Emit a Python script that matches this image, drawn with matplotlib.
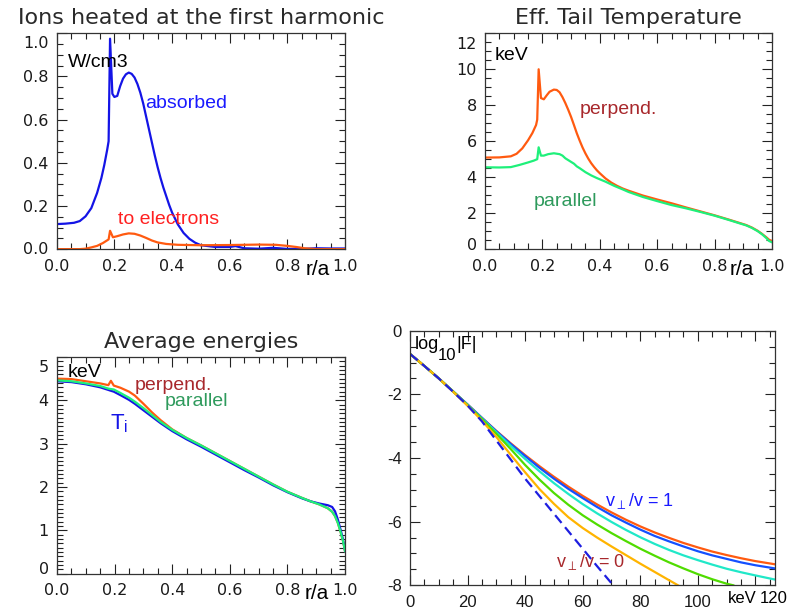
import matplotlib
matplotlib.use("Agg")
import matplotlib.pyplot as plt
import matplotlib.transforms as mtransforms
from matplotlib.ticker import MultipleLocator

plt.rcParams['axes.unicode_minus'] = False
plt.rcParams['mathtext.default'] = 'regular'

# ---- panel 1: power density (W/cm3) vs r/a
r_abs = [0, 0.03, 0.06, 0.08, 0.10, 0.12, 0.14, 0.155, 0.165, 0.175, 0.18, 0.185, 0.193,
         0.20, 0.21, 0.22, 0.23, 0.24, 0.25, 0.26, 0.27, 0.28, 0.29, 0.30, 0.31, 0.32,
         0.33, 0.34, 0.35, 0.36, 0.37, 0.38, 0.39, 0.40, 0.42, 0.44, 0.46, 0.48, 0.50,
         0.55, 0.60, 0.62, 0.65, 0.70, 0.75, 0.80, 0.85, 0.90, 0.95, 1.0]
absorbed = [0.116, 0.118, 0.122, 0.13, 0.152, 0.19, 0.26, 0.33, 0.39, 0.46, 0.50, 0.975, 0.72,
            0.705, 0.71, 0.755, 0.79, 0.81, 0.818, 0.812, 0.795, 0.765, 0.725, 0.675, 0.615, 0.555,
            0.495, 0.435, 0.38, 0.33, 0.285, 0.245, 0.205, 0.17, 0.115, 0.075, 0.048, 0.03, 0.018,
            0.01, 0.01, 0.014, 0.004, 0.002, 0.006, 0.001, 0.001, 0.004, 0.003, 0.003]
r_ele = [0, 0.08, 0.10, 0.12, 0.14, 0.16, 0.18, 0.185, 0.195, 0.21, 0.23, 0.25, 0.27, 0.29,
         0.31, 0.33, 0.35, 0.38, 0.42, 0.50, 0.60, 0.70, 0.76, 0.80, 0.83, 0.86, 0.90, 1.0]
to_electrons = [0, 0, 0.002, 0.008, 0.015, 0.028, 0.045, 0.085, 0.055, 0.06, 0.068, 0.073, 0.071, 0.063,
                0.052, 0.04, 0.031, 0.024, 0.02, 0.018, 0.019, 0.021, 0.02, 0.015, 0.01, 0.004, 0.0, 0.0]

# ---- panel 2: effective tail temperature (keV)
r_tp = [0, 0.05, 0.09, 0.11, 0.13, 0.15, 0.165, 0.178, 0.182, 0.187, 0.195, 0.205, 0.215,
        0.225, 0.24, 0.25, 0.26, 0.27, 0.28, 0.29, 0.30, 0.31, 0.32, 0.33, 0.34, 0.35, 0.36,
        0.37, 0.38, 0.39, 0.40, 0.42, 0.44, 0.46, 0.48, 0.50, 0.55, 0.60, 0.65, 0.70, 0.75,
        0.80, 0.85, 0.88, 0.91, 0.93, 0.95, 0.965, 0.98, 0.99, 1.0]
tail_perp = [5.09, 5.10, 5.16, 5.30, 5.60, 6.05, 6.45, 6.90, 7.20, 10.0, 8.40, 8.33, 8.55,
             8.75, 8.87, 8.85, 8.72, 8.45, 8.12, 7.75, 7.35, 6.90, 6.44, 6.03, 5.65, 5.32, 5.03,
             4.78, 4.57, 4.38, 4.22, 3.93, 3.70, 3.52, 3.37, 3.25, 2.98, 2.76, 2.55, 2.32, 2.10,
             1.88, 1.64, 1.49, 1.34, 1.20, 1.02, 0.85, 0.66, 0.52, 0.45]
r_tl = [0, 0.05, 0.09, 0.12, 0.15, 0.17, 0.182, 0.187, 0.195, 0.205, 0.22, 0.24, 0.26, 0.27,
        0.28, 0.29, 0.30, 0.31, 0.32, 0.33, 0.35, 0.37, 0.39, 0.42, 0.45, 0.48, 0.50, 0.55,
        0.60, 0.65, 0.70, 0.75, 0.80, 0.85, 0.88, 0.91, 0.93, 0.95, 0.965, 0.98, 0.99, 1.0]
tail_par = [4.55, 4.54, 4.56, 4.68, 4.82, 4.92, 5.00, 5.66, 5.20, 5.20, 5.28, 5.33, 5.28, 5.20,
            5.05, 4.95, 4.85, 4.75, 4.60, 4.50, 4.28, 4.10, 3.95, 3.75, 3.52, 3.32, 3.18, 2.90,
            2.67, 2.45, 2.27, 2.07, 1.86, 1.62, 1.47, 1.32, 1.18, 1.00, 0.83, 0.62, 0.45, 0.38]

# ---- panel 3: average energies (keV)
r_avg = [0, 0.05, 0.1, 0.15, 0.178, 0.187, 0.197, 0.22, 0.25, 0.27, 0.3, 0.33, 0.36, 0.4,
         0.45, 0.5, 0.55, 0.6, 0.65, 0.7, 0.75, 0.8, 0.85, 0.88, 0.91, 0.94, 0.955, 0.965,
         0.975, 0.985, 0.993, 1.0]
avg_ti = [4.44, 4.42, 4.37, 4.30, 4.24, 4.22, 4.20, 4.12, 4.01, 3.92, 3.77, 3.62, 3.47, 3.29,
          3.10, 2.93, 2.75, 2.57, 2.39, 2.22, 2.04, 1.88, 1.74, 1.67, 1.62, 1.58, 1.54, 1.44,
          1.25, 1.00, 0.78, 0.52]
avg_par = [4.46, 4.44, 4.39, 4.33, 4.27, 4.26, 4.25, 4.17, 4.06, 3.97, 3.82, 3.66, 3.50, 3.32,
           3.13, 2.96, 2.78, 2.60, 2.42, 2.24, 2.06, 1.89, 1.75, 1.67, 1.60, 1.51, 1.43, 1.33,
           1.17, 0.95, 0.75, 0.52]
avg_perp = [4.50, 4.49, 4.44, 4.39, 4.35, 4.45, 4.34, 4.29, 4.20, 4.11, 3.92, 3.72, 3.54, 3.33,
            3.13, 2.96, 2.78, 2.60, 2.42, 2.24, 2.06, 1.89, 1.75, 1.67, 1.60, 1.51, 1.43, 1.33,
            1.17, 0.95, 0.75, 0.52]

# ---- panel 4: log10|F| vs energy (keV)
E_f = [0, 5, 10, 15, 20, 25, 30, 35, 40, 45, 50, 55, 60, 65, 70, 75, 80, 85, 90, 95, 100,
       105, 110, 115, 120, 126.8]
f_orange = [-0.73, -1.11, -1.50, -1.91, -2.32, -2.74, -3.15, -3.54, -3.91, -4.26, -4.59, -4.90,
            -5.19, -5.46, -5.71, -5.94, -6.15, -6.34, -6.51, -6.67, -6.81, -6.94, -7.05, -7.15,
            -7.24, -7.34]
f_blue = [-0.73, -1.11, -1.50, -1.91, -2.32, -2.74, -3.16, -3.56, -3.94, -4.31, -4.65, -4.97,
          -5.26, -5.54, -5.80, -6.03, -6.25, -6.45, -6.62, -6.78, -6.93, -7.06, -7.17, -7.28,
          -7.37, -7.47]
f_cyan = [-0.73, -1.11, -1.50, -1.91, -2.33, -2.76, -3.19, -3.62, -4.03, -4.42, -4.79, -5.13,
          -5.45, -5.74, -6.01, -6.26, -6.49, -6.70, -6.89, -7.06, -7.21, -7.35, -7.48, -7.59,
          -7.69, -7.82]
E_green = [0, 5, 10, 15, 20, 25, 30, 35, 40, 45, 50, 55, 60, 65, 70, 75, 80, 85, 90, 95, 100,
           105, 110, 112.3]
f_green = [-0.73, -1.11, -1.50, -1.91, -2.34, -2.78, -3.24, -3.72, -4.22, -4.68, -5.10, -5.47,
           -5.80, -6.09, -6.36, -6.61, -6.85, -7.07, -7.28, -7.47, -7.65, -7.81, -7.95, -8.0]
E_yellow = [0, 5, 10, 15, 20, 25, 30, 35, 40, 45, 50, 55, 60, 65, 70, 75, 80, 85, 90, 93.1]
f_yellow = [-0.73, -1.11, -1.50, -1.92, -2.36, -2.83, -3.34, -3.90, -4.45, -4.98, -5.44, -5.86,
            -6.20, -6.50, -6.78, -7.05, -7.32, -7.58, -7.84, -8.0]
E_dash = [0, 5, 10, 15, 20, 25, 30, 35, 40, 45, 50, 55, 60, 65, 70.6]
f_dash = [-0.73, -1.11, -1.50, -1.92, -2.35, -2.85, -3.45, -4.05, -4.65, -5.20, -5.75, -6.30,
          -6.85, -7.40, -8.0]

ORANGE = '#ff5a10'
BLUE = '#1414e6'
GREEN_LINE = '#1ef07a'
BROWN = '#a8282c'
GREEN_TXT = '#2e9a5c'
TICKFONT = 'DejaVu Sans'
LABFONT = 'Liberation Sans'

fig = plt.figure(figsize=(7.9, 6.1), dpi=100)
ax1 = fig.add_axes([0.0718, 0.5916, 0.3649, 0.3538])
ax2 = fig.add_axes([0.6139, 0.5916, 0.3633, 0.3538])
ax3 = fig.add_axes([0.0722, 0.0595, 0.3646, 0.3553])
ax4 = fig.add_axes([0.5190, 0.0405, 0.4620, 0.4174])


def style(ax, font, size):
    ax.tick_params(which='both', direction='in', top=True, right=True, width=0.8, colors='#222222')
    ax.tick_params(which='major', length=7)
    ax.tick_params(which='minor', length=4)
    ax.tick_params(axis='x', pad=7)
    ax.tick_params(axis='y', pad=6)
    for sp in ax.spines.values():
        sp.set_linewidth(0.9)
        sp.set_color('#333333')
    for lab in ax.get_xticklabels() + ax.get_yticklabels():
        lab.set_fontfamily(font)
        lab.set_fontsize(size)
        lab.set_color('#1a1a1a')


def nudge_ylabels(ax, top_dy, bottom_dy):
    # IDL-like placement: the end labels sit a little inside the axis range
    labs = ax.get_yticklabels()
    labs[-1].set_transform(labs[-1].get_transform() +
                           mtransforms.ScaledTranslation(0, -top_dy / 72, fig.dpi_scale_trans))
    labs[0].set_transform(labs[0].get_transform() +
                          mtransforms.ScaledTranslation(0, bottom_dy / 72, fig.dpi_scale_trans))


def r_axis(ax, xpos):
    ax.set_xlim(0, 1.0)
    ax.xaxis.set_minor_locator(MultipleLocator(0.05))
    ax.set_xticks([0, 0.2, 0.4, 0.6, 0.8, 1.0])
    ax.set_xticklabels(['0.0', '0.2', '0.4', '0.6', '0.8', '1.0'])
    ax.text(xpos, -0.118, 'r/a', transform=ax.get_xaxis_transform(), ha='center', va='baseline',
            fontsize=15, family=LABFONT)


# panel 1
ax1.plot(r_abs, absorbed, color=BLUE, lw=1.6)
ax1.plot(r_ele, to_electrons, color=ORANGE, lw=1.6)
r_axis(ax1, 0.905)
ax1.set_ylim(0, 1.0)
ax1.yaxis.set_minor_locator(MultipleLocator(0.05))
ax1.set_yticks([0, 0.2, 0.4, 0.6, 0.8, 1.0])
ax1.set_yticklabels(['0.0', '0.2', '0.4', '0.6', '0.8', '1.0'])
ax1.set_title('Ions heated at the first harmonic', fontsize=16, family=TICKFONT, pad=7, color='#2a2a2a')
ax1.text(0.039, 0.845, 'W/cm3', transform=ax1.transAxes, fontsize=14, family=LABFONT)
ax1.text(0.305, 0.655, 'absorbed', transform=ax1.transAxes, fontsize=14, family=LABFONT, color='#1a1aff')
ax1.text(0.213, 0.116, 'to electrons', transform=ax1.transAxes, fontsize=14, family=LABFONT, color='#ff2020')
style(ax1, TICKFONT, 11.5)
nudge_ylabels(ax1, 6, 1)

# panel 2
ax2.plot(r_tp, tail_perp, color=ORANGE, lw=1.6)
ax2.plot(r_tl, tail_par, color=GREEN_LINE, lw=1.6)
r_axis(ax2, 0.894)
ax2.set_ylim(0, 12)
ax2.set_yticks([0, 2, 4, 6, 8, 10, 12])
ax2.yaxis.set_minor_locator(MultipleLocator(0.5))
ax2.set_title('Eff. Tail Temperature', fontsize=16, family=TICKFONT, pad=7, color='#2a2a2a')
ax2.text(0.035, 0.876, 'keV', transform=ax2.transAxes, fontsize=14, family=LABFONT)
ax2.text(0.331, 0.626, 'perpend.', transform=ax2.transAxes, fontsize=14, family=LABFONT, color=BROWN)
ax2.text(0.171, 0.20, 'parallel', transform=ax2.transAxes, fontsize=14, family=LABFONT, color=GREEN_TXT)
style(ax2, TICKFONT, 11.5)
nudge_ylabels(ax2, 7, 4)

# panel 3
ax3.plot(r_avg, avg_perp, color=ORANGE, lw=1.6)
ax3.plot(r_avg, avg_ti, color=BLUE, lw=1.6)
ax3.plot(r_avg, avg_par, color=GREEN_LINE, lw=1.6)
r_axis(ax3, 0.902)
ax3.set_ylim(0, 5)
ax3.set_yticks([0, 1, 2, 3, 4, 5])
ax3.yaxis.set_minor_locator(MultipleLocator(0.1))
ax3.set_title('Average energies', fontsize=16, family=TICKFONT, pad=6.5, color='#2a2a2a')
ax3.text(0.038, 0.908, 'keV', transform=ax3.transAxes, fontsize=14, family=LABFONT)
ax3.text(0.271, 0.848, 'perpend.', transform=ax3.transAxes, fontsize=14, family=LABFONT, color=BROWN)
ax3.text(0.375, 0.774, 'parallel', transform=ax3.transAxes, fontsize=14, family=LABFONT, color=GREEN_TXT)
ax3.text(0.184, 0.668, 'T$_{i}$', transform=ax3.transAxes, fontsize=16, family=LABFONT, color=BLUE)
style(ax3, TICKFONT, 11.5)
nudge_ylabels(ax3, 6.5, 4)

# panel 4
ax4.plot(E_f, f_orange, color='#ff5a10', lw=1.6)
ax4.plot(E_f, f_blue, color='#1450ff', lw=1.6)
ax4.plot(E_f, f_cyan, color='#20e8c8', lw=1.6)
ax4.plot(E_green, f_green, color='#50dc00', lw=1.6)
ax4.plot(E_yellow, f_yellow, color='#ffb400', lw=1.6)
ax4.plot(E_dash, f_dash, color='#1e1ee0', lw=1.6, ls=(0, (4.5, 2.5)))
ax4.set_xlim(0, 126.8)
ax4.set_ylim(-8, 0)
ax4.xaxis.set_minor_locator(MultipleLocator(5))
ax4.set_xticks([0, 20, 40, 60, 80, 100, 120])
ax4.set_xticklabels(['0', '20', '40', '60', '80', '100', ''])
ax4.set_yticks([-8, -6, -4, -2, 0])
ax4.set_yticklabels(['-8', '-6', '-4', '-2', '0'])
ax4.yaxis.set_minor_locator(MultipleLocator(0.5))
ax4.text(126.4, -0.05, '120', transform=ax4.get_xaxis_transform(), ha='center', va='center',
         fontsize=12, family=LABFONT)
ax4.text(115.5, -0.05, 'keV', transform=ax4.get_xaxis_transform(), ha='center', va='center',
         fontsize=12, family=LABFONT)
# log10|F| with a large, low subscript as in the original
ax4.text(0.013, 0.93, 'log', transform=ax4.transAxes, fontsize=13, family=LABFONT)
ax4.text(0.077, 0.883, '10', transform=ax4.transAxes, fontsize=12, family=LABFONT)
ax4.text(0.126, 0.93, '|F|', transform=ax4.transAxes, fontsize=13, family=LABFONT)
ax4.text(0.533, 0.31, r'v$_{\perp}$/v = 1', transform=ax4.transAxes, fontsize=13, family=LABFONT, color='#1a1aff')
ax4.text(0.40, 0.072, r'v$_{\perp}$/v = 0', transform=ax4.transAxes, fontsize=13, family=LABFONT, color=BROWN)
style(ax4, LABFONT, 12)

fig.savefig('out.png', dpi=100)
